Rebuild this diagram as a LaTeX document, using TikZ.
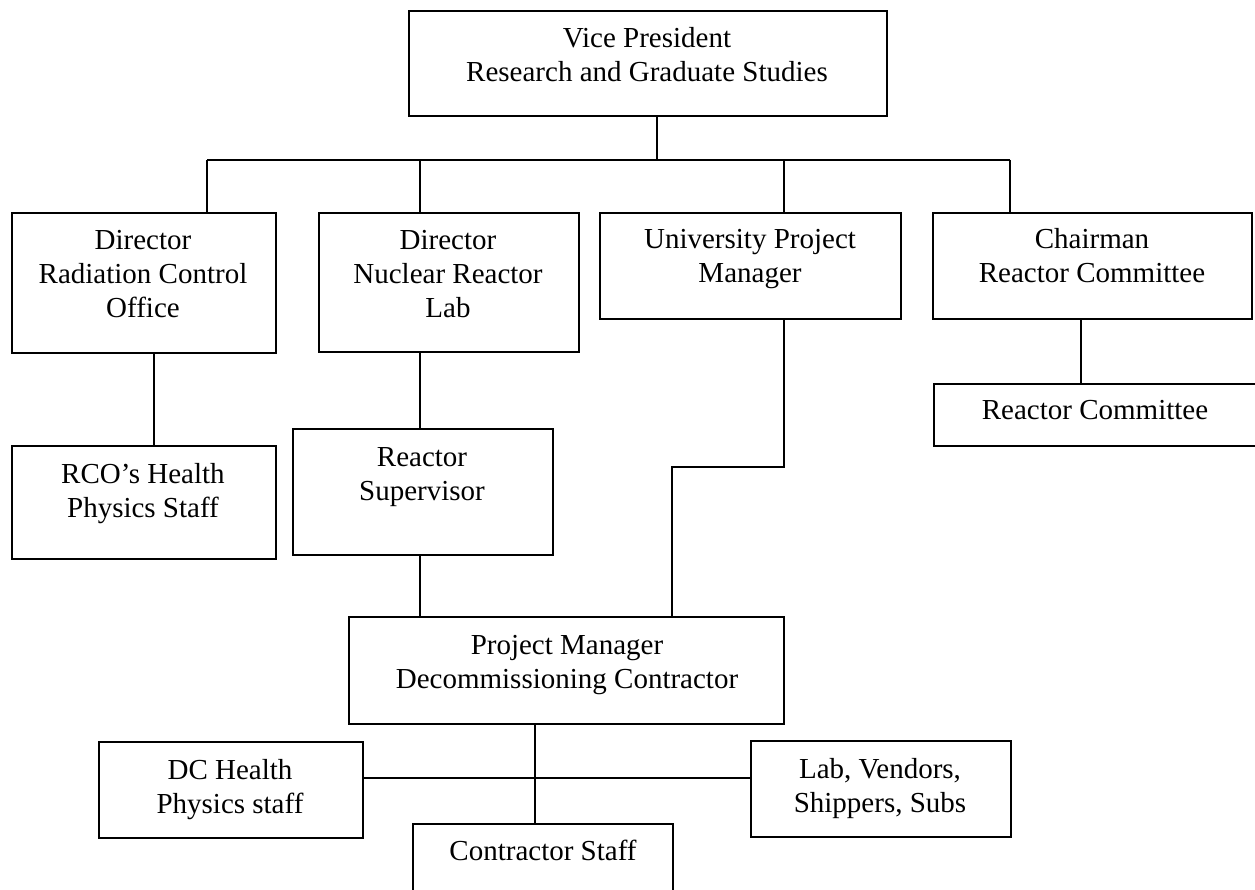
\documentclass[tikz,border=0pt]{standalone}
\usepackage{fontspec}
\setmainfont{Liberation Serif}
\begin{document}
\begin{tikzpicture}[x=1pt,y=-1pt,
  box/.style={draw, line width=2pt, inner sep=0pt, anchor=north west},
  lbl/.style={font=\fontsize{29}{34}\selectfont, align=center, anchor=base, inner sep=0pt},
  conn/.style={line width=2pt}]
\useasboundingbox (0,0) rectangle (1255,890);
\clip (0,0) rectangle (1255,890);
% boxes
\node[box, minimum width=478pt, minimum height=105pt] (vp) at (408,10) {};
\node[box, minimum width=264pt, minimum height=140pt] (rco) at (11,212) {};
\node[box, minimum width=260pt, minimum height=139pt] (nrl) at (318,212) {};
\node[box, minimum width=301pt, minimum height=106pt] (upm) at (599,212) {};
\node[box, minimum width=319pt, minimum height=106pt] (chair) at (932,212) {};
\node[box, minimum width=340pt, minimum height=62pt] (rc) at (933,383) {};
\node[box, minimum width=264pt, minimum height=113pt] (rcohp) at (11,445) {};
\node[box, minimum width=260pt, minimum height=126pt] (rs) at (292,428) {};
\node[box, minimum width=435pt, minimum height=107pt] (pm) at (348,616) {};
\node[box, minimum width=264pt, minimum height=96pt] (dch) at (98,741) {};
\node[box, minimum width=260pt, minimum height=96pt] (lab) at (750,740) {};
\node[box, minimum width=260pt, minimum height=100pt] (cs) at (412,823) {};
% texts (anchor base = baseline of last line)
\node[lbl] (vpt) at (647,82) {Vice President\\Research and Graduate Studies};
\node[lbl] (rcot) at (143,318) {Director\\Radiation Control\\Office};
\node[lbl] (nrlt) at (448,318) {Director\\Nuclear Reactor\\Lab};
\node[lbl] (upmt) at (750,283) {University Project\\Manager};
\node[lbl] (chairt) at (1092,283) {Chairman\\Reactor Committee};
\node[lbl] (rct) at (1095,419) {Reactor Committee};
\node[lbl] (rcohpt) at (143,517) {RCO’s Health\\Physics Staff};
\node[lbl] (rst) at (422,500) {Reactor\\Supervisor};
\node[lbl] (pmt) at (567,688) {Project Manager\\Decommissioning Contractor};
\node[lbl] (dcht) at (230,813) {DC Health\\Physics staff};
\node[lbl] (labt) at (880,812) {Lab, Vendors,\\Shippers, Subs};
\node[lbl] (cst) at (543,860) {Contractor Staff};
% connectors
\coordinate (busL) at (207,160);
\coordinate (busR) at (1010,160);
\coordinate (j0) at (657,160);
\coordinate (j2) at (420,160);
\coordinate (j3) at (784,160);
\coordinate (k1) at (154,0);
\coordinate (k2) at (1081,0);
\coordinate (s1) at (784,467);
\coordinate (s2) at (672,467);
\coordinate (k3) at (535,778);
\draw[conn] (busL) -- (busR);
\draw[conn] (vp.south -| j0) -- (j0);
\draw[conn] (busL) -- (rco.north -| busL);
\draw[conn] (j2) -- (nrl.north -| j2);
\draw[conn] (j3) -- (upm.north -| j3);
\draw[conn] (busR) -- (chair.north -| busR);
\draw[conn] (rco.south -| k1) -- (rcohp.north -| k1);
\draw[conn] (nrl.south -| j2) -- (rs.north -| j2);
\draw[conn] (rs.south -| j2) -- (pm.north -| j2);
\draw[conn] (upm.south -| s1) -- (s1) -- (s2) -- (pm.north -| s2);
\draw[conn] (chair.south -| k2) -- (rc.north -| k2);
\draw[conn] (pm.south -| k3) -- (cs.north -| k3);
\draw[conn] (dch.east |- k3) -- (lab.west |- k3);
\end{tikzpicture}
\end{document}
